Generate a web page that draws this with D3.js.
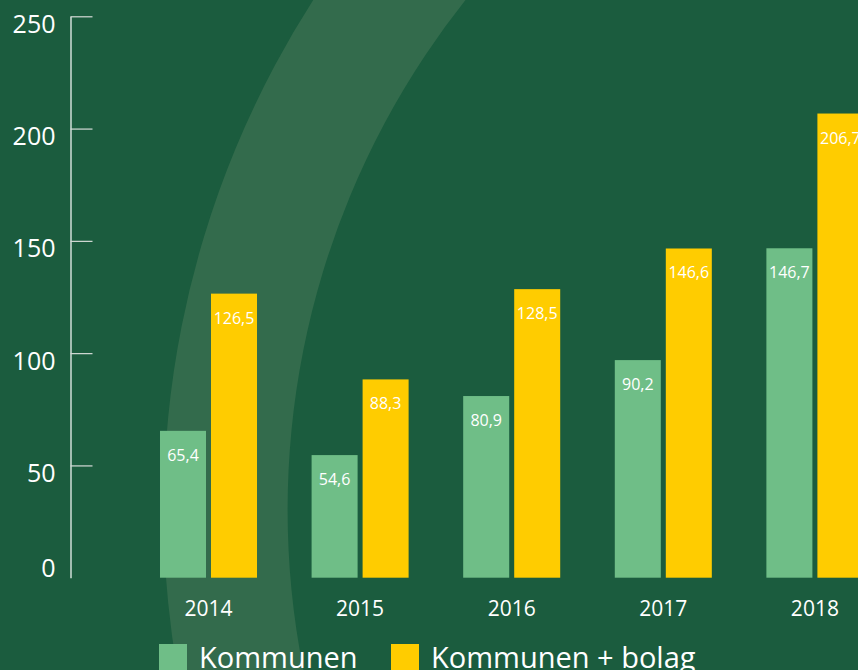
<!DOCTYPE html>
<html>
<head>
<meta charset="utf-8">
<script src="https://cdn.jsdelivr.net/npm/d3@7"></script>
<style>
  body { margin: 0; background: #1b5c3e; }
  svg { display: block; font-family: "Open Sans", sans-serif; }
</style>
</head>
<body>
<svg width="858" height="670"></svg>
<script>
// data (bar heights, labels as printed)
var years = ["2014", "2015", "2016", "2017", "2018"];
var kommunen = [65.4, 54.6, 80.9, 96.9, 146.7];
var kommunenBolag = [126.5, 88.3, 128.5, 146.6, 206.7];
var kommunenLabels = ["65,4", "54,6", "80,9", "90,2", "146,7"];
var kommunenBolagLabels = ["126,5", "88,3", "128,5", "146,6", "206,7"];
var seriesNames = ["Kommunen", "Kommunen + bolag"];
var seriesColors = ["#6fbe87", "#ffcc00"];
var yTicks = [0, 50, 100, 150, 200, 250];

var svg = d3.select("svg"),
    width = +svg.attr("width"),
    height = +svg.attr("height");

// achtergrond + boog
svg.append("rect").attr("width", width).attr("height", height).attr("fill", "#1b5c3e");
svg.append("path")
    .attr("transform", "translate(1107.6,510)")
    .attr("d", d3.arc()({ innerRadius: 820, outerRadius: 944, startAngle: 0, endAngle: 2 * Math.PI }))
    .attr("fill", "#336b4c");

var axisX = 70.5;

var x0 = d3.scaleBand().domain(years).range([132.7, 890.7]).paddingInner(0.36).paddingOuter(0.18);
var x1 = d3.scaleBand().domain(seriesNames).range([0, x0.bandwidth()]).paddingInner(0.098);
var y = d3.scaleLinear().domain([0, 250]).range([577.7, 16.3]);

// y-as
var yAxis = svg.append("g")
    .attr("transform", "translate(" + axisX + ",0)")
    .call(d3.axisRight(y).tickValues(yTicks).tickSize(22).tickSizeOuter(0).tickFormat(d3.format("d")));
yAxis.select(".domain").attr("stroke", "#ffffff").attr("stroke-width", 1.2);
yAxis.selectAll(".tick line").attr("stroke", "#d6dcd8").attr("stroke-width", 1.2)
    .attr("opacity", function (d) { return d === 0 ? 0 : 1; });
yAxis.selectAll(".tick text")
    .attr("x", -15)
    .attr("dy", null)
    .attr("y", function (d) { return d === 0 ? -1 : 16; })
    .attr("text-anchor", "end")
    .attr("fill", "#ffffff")
    .attr("font-family", "Open Sans")
    .attr("font-size", 25);

// tabel per jaar
var rows = years.map(function (yr, i) {
    return {
        year: yr,
        values: [kommunen[i], kommunenBolag[i]],
        labels: [kommunenLabels[i], kommunenBolagLabels[i]]
    };
});

var groups = svg.selectAll(".group")
    .data(rows)
    .enter().append("g")
    .attr("class", "group")
    .attr("transform", function (d) { return "translate(" + x0(d.year) + ",0)"; });

var bars = groups.selectAll(".bar")
    .data(function (d) {
        return d.values.map(function (v, j) {
            return { name: seriesNames[j], value: v, label: d.labels[j], color: seriesColors[j] };
        });
    })
    .enter();

bars.append("rect")
    .attr("class", "bar")
    .attr("x", function (d) { return x1(d.name); })
    .attr("y", function (d) { return y(d.value); })
    .attr("width", x1.bandwidth())
    .attr("height", function (d) { return y(0) - y(d.value); })
    .attr("fill", function (d) { return d.color; });

bars.append("text")
    .attr("x", function (d) { return x1(d.name) + x1.bandwidth() / 2; })
    .attr("y", function (d) { return y(d.value) + 30; })
    .attr("text-anchor", "middle")
    .attr("fill", "#ffffff")
    .attr("font-size", 16)
    .text(function (d) { return d.label; });

// jaartallen
groups.append("text")
    .attr("x", x0.bandwidth() / 2)
    .attr("y", 616)
    .attr("text-anchor", "middle")
    .attr("fill", "#ffffff")
    .attr("font-size", 21)
    .text(function (d) { return d.year; });

// legenda
var legendX = [159, 391];
var legend = svg.selectAll(".legend")
    .data(seriesNames)
    .enter().append("g")
    .attr("class", "legend")
    .attr("transform", function (d, i) { return "translate(" + legendX[i] + ",644)"; });
legend.append("rect")
    .attr("width", 28).attr("height", 28)
    .attr("fill", function (d, i) { return seriesColors[i]; });
legend.append("text")
    .attr("x", 40)
    .attr("y", 24)
    .attr("fill", "#ffffff")
    .attr("font-size", 29)
    .text(function (d) { return d; });
</script>
</body>
</html>
